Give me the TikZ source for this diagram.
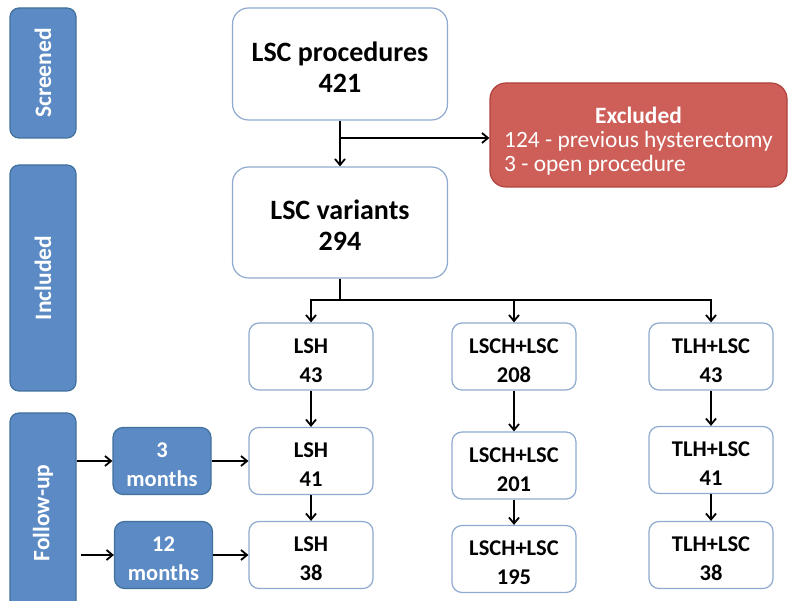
\documentclass[tikz,border=0pt]{standalone}
\usepackage{fontspec}
\setmainfont{Carlito}
\usetikzlibrary{calc,positioning,arrows.meta}
\definecolor{bandblue}{HTML}{5B8AC4}
\definecolor{banddark}{HTML}{41719C}
\definecolor{boxline}{HTML}{8FAAD0}
\definecolor{exclred}{HTML}{CD5E58}
\definecolor{excldark}{HTML}{B0433E}
\tikzstyle{band} = [rectangle, rounded corners=9pt, minimum width=66pt, draw=banddark, fill=bandblue, text=white, font=\fontsize{23.5}{26}\selectfont\bfseries, line width=1.2pt]
\tikzstyle{mainbox} = [rectangle, rounded corners=16pt, minimum width=215pt, minimum height=112pt, text height=57pt, align=center, draw=boxline, fill=white, font=\fontsize{28}{31}\selectfont\bfseries, line width=1.2pt]
\tikzstyle{smallbox} = [rectangle, rounded corners=10pt, minimum width=124pt, minimum height=67pt, text height=51.5pt, align=center, draw=boxline, fill=white, font=\fontsize{22.5}{29}\selectfont\bfseries, line width=1.2pt]
\tikzstyle{monthbox} = [rectangle, rounded corners=10pt, minimum width=98pt, minimum height=67pt, text height=51pt, align=center, draw=banddark, fill=bandblue, text=white, font=\fontsize{22.5}{29}\selectfont\bfseries, line width=1.2pt]
\tikzstyle{exclbox} = [rectangle, rounded corners=16pt, minimum width=297pt, minimum height=104pt, text height=57pt, draw=excldark, fill=exclred, text=white, font=\fontsize{23.4}{25}\selectfont, line width=1.2pt]
\tikzstyle{arrow} = [line width=1.8pt,->,>={Straight Barb[length=6pt,width=10pt]}]
\begin{document}
\begin{tikzpicture}[x=1pt,y=-1pt]
			\useasboundingbox (0,0) rectangle (788,601);
			\clip (0,0) rectangle (788,601);
			% stage bands
			\node (screened) [band, minimum height=130pt] at (43,73) {\rotatebox{90}{Screened}};
			\node (included) [band, minimum height=226pt] at (43,278) {\rotatebox{90}{Included}};
			\node (followup) [band, minimum height=200pt] at (43,513) {\rotatebox{90}{Follow-up}};
			\node (m3) [monthbox] at (162,461) {3\\months};
			\node (m12) [monthbox] at (163.5,555) {12\\months};
			
			% main flow
			\node (proc) [mainbox] at (340,64) {LSC procedures\\421};
			\node (var) [mainbox, minimum height=111pt] at (340,222.5) {LSC variants\\294};
			\node (excl) [exclbox] at (638.5,135) {\begin{tabular}{@{}l@{}}\multicolumn{1}{@{}c@{}}{\bfseries Excluded}\\[-1pt] 124 - previous hysterectomy\\[-1pt] 3 - open procedure\end{tabular}};
			\node (lsh1) [smallbox] at (311,356.5) {LSH\\43};
			\node (lsh2) [smallbox] at (311,461) {LSH\\41};
			\node (lsh3) [smallbox] at (311,555) {LSH\\38};
			\node (lsch1) [smallbox] at (514,356.5) {LSCH+LSC\\208};
			\node (lsch2) [smallbox] at (514,465.5) {LSCH+LSC\\201};
			\node (lsch3) [smallbox] at (514,559) {LSCH+LSC\\195};
			\node (tlh1) [smallbox] at (711,356.5) {TLH+LSC\\43};
			\node (tlh2) [smallbox] at (711,460) {TLH+LSC\\41};
			\node (tlh3) [smallbox] at (711,555) {TLH+LSC\\38};
			\coordinate (split) at (340,138);
			\coordinate (fork) at (340,300);
			
			%arrows
			\draw [arrow] (proc) -- (var);
			\draw [arrow] (split) -- (split -| excl.west);
			\draw [arrow] (var.south) -- (fork) -| (lsh1.north);
			\draw [arrow] (fork) -| (lsch1.north);
			\draw [arrow] (fork) -| (tlh1.north);
			\draw [arrow] (lsh1) -- (lsh2);
			\draw [arrow] (lsh2) -- (lsh3);
			\draw [arrow] (lsch1) -- (lsch2);
			\draw [arrow] (lsch2) -- (lsch3);
			\draw [arrow] (tlh1) -- (tlh2);
			\draw [arrow] (tlh2) -- (tlh3);
			\draw [arrow] (followup.east |- m3) -- (m3);
			\draw [arrow] ([xshift=4pt]followup.east |- m12) -- (m12);
			\draw [arrow] (m3) -- (m3 -| lsh2.west);
			\draw [arrow] (m12) -- (m12 -| lsh3.west);
			
		\end{tikzpicture}
\end{document}
